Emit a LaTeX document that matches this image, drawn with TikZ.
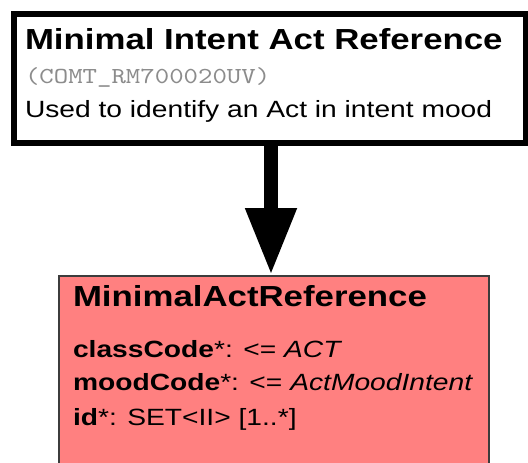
\documentclass[tikz,border=0pt]{standalone}
\usepackage{fontspec}
\setmainfont{Liberation Sans}[FakeStretch=1.2]
\newfontfamily\monofnt{lmmono10-regular.otf}[FakeStretch=1.2]
\usetikzlibrary{arrows.meta}
\definecolor{boxred}{RGB}{255,128,128}
\definecolor{codegray}{RGB}{140,140,140}
\definecolor{edgegray}{RGB}{60,60,60}
\tikzset{
  txt/.style={anchor=base west, inner sep=0pt, outer sep=0pt},
  titlefont/.style={font=\fontsize{29}{34}\selectfont\bfseries},
  bodyfont/.style={font=\fontsize{23.5}{28}\selectfont},
  monofont/.style={font=\fontsize{22.9}{26}\selectfont\monofnt, text=codegray},
  intentbox/.style={draw=black, line width=6pt, fill=white, inner sep=0pt, anchor=north west},
  classbox/.style={draw=edgegray, line width=2pt, fill=boxred, inner sep=0pt, anchor=north west},
  genarrow/.style={line width=14pt, -{Triangle[width=48pt,length=67pt]}}
}
\begin{document}
\begin{tikzpicture}[x=1pt,y=-1pt]
\useasboundingbox (0,0) rectangle (528,463);
\clip (0,0) rectangle (528,463);
\node[intentbox, minimum width=512pt, minimum height=129pt] (top) at (11,11) {};
\node[classbox, minimum width=430pt, minimum height=230pt] (bot) at (58,275) {};
\node[txt, titlefont] (t1) at (25,49) {Minimal Intent Act Reference};
\node[txt, monofont] (t2) at (25,83) {(COMT\_RM700020UV)};
\node[txt, bodyfont] (t3) at (25,117) {Used to identify an Act in intent mood};
\node[txt, titlefont] (b1) at (73,306) {MinimalActReference};
\node[txt, bodyfont] (b2) at (73,357) {\textbf{classCode}*: <= \textit{ACT}};
\node[txt, bodyfont] (b3) at (73,390) {\textbf{moodCode}*: <= \textit{ActMoodIntent}};
\node[txt, bodyfont] (b4) at (73,425) {\textbf{id}*: SET<II> [1..*]};
\coordinate (ax) at (271,0);
\draw[genarrow] (top.south -| ax) -- (bot.north -| ax);
\end{tikzpicture}
\end{document}
